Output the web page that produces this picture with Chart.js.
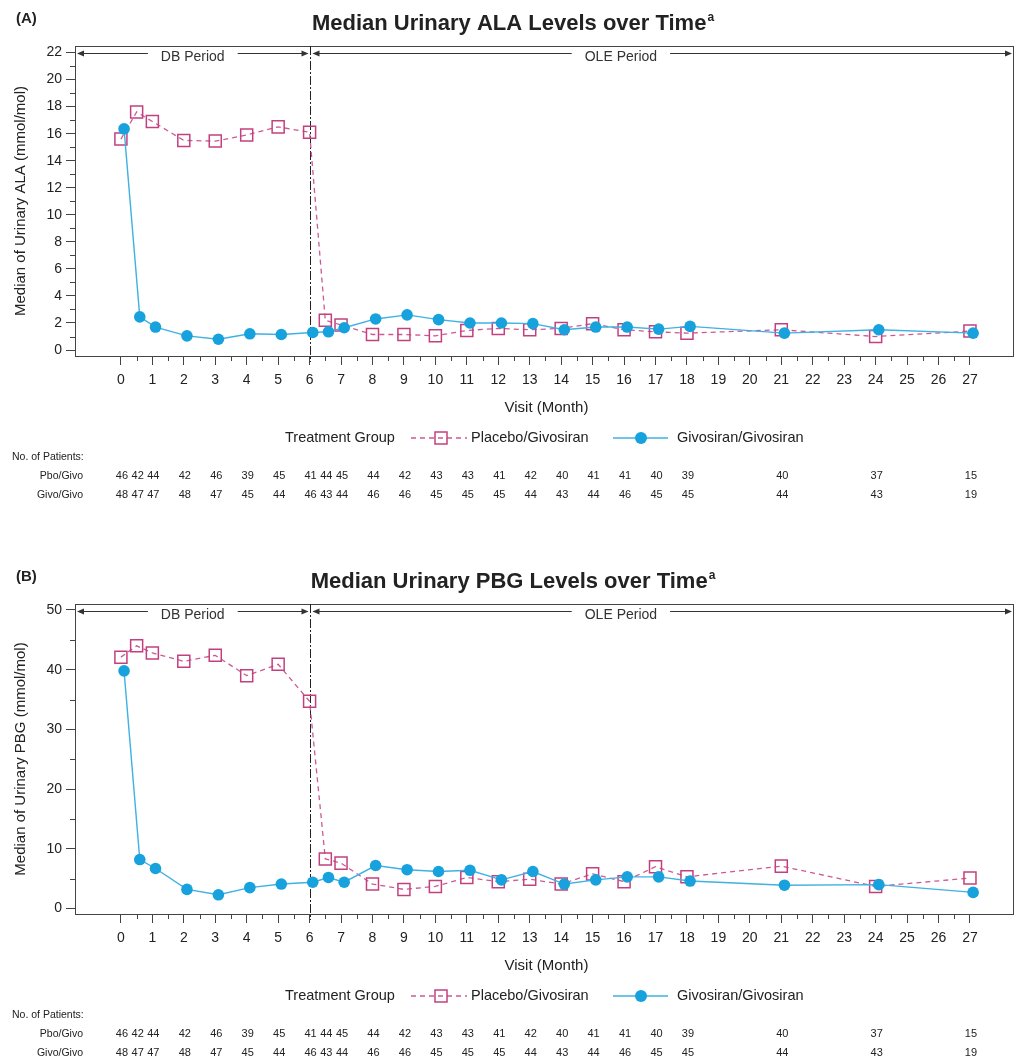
<!DOCTYPE html>
<html>
<head>
<meta charset="utf-8">
<script src="https://cdn.jsdelivr.net/npm/chart.js@4.4.1/dist/chart.umd.min.js"></script>
<style>
  body { margin: 0; background: #fff; }
  .panel { position: absolute; left: 0; width: 1019px; height: 504px; }
</style>
</head>
<body>
<div class="panel" style="top:0"><canvas id="chartA" width="1019" height="504"></canvas></div>
<div class="panel" style="top:558px"><canvas id="chartB" width="1019" height="504"></canvas></div>
<script>
// visits (months) and the two groups
const visits = [0, 0.5, 1, 2, 3, 4, 5, 6, 6.5, 7, 8, 9, 10, 11, 12, 13, 14, 15, 16, 17, 18, 21, 24, 27];
const givoShift = 0.1; // givo markers sit a little right of the visit

// median urinary ALA (mmol/mol)
const alaPbo = [15.6, 17.6, 16.9, 15.5, 15.45, 15.9, 16.5, 16.1, 2.2, 1.85, 1.15, 1.15, 1.05, 1.45, 1.6, 1.5, 1.6, 1.95, 1.5, 1.35, 1.25, 1.5, 1.0, 1.4];
const alaGivo = [16.35, 2.45, 1.7, 1.05, 0.8, 1.2, 1.15, 1.3, 1.35, 1.65, 2.3, 2.6, 2.25, 2.0, 2.0, 1.95, 1.5, 1.7, 1.7, 1.55, 1.75, 1.25, 1.5, 1.25];

// median urinary PBG (mmol/mol)
const pbgPbo = [42.1, 44.0, 42.8, 41.4, 42.4, 39.0, 40.9, 34.7, 8.3, 7.6, 4.1, 3.2, 3.7, 5.2, 4.5, 4.9, 4.1, 5.8, 4.5, 7.0, 5.3, 7.1, 3.7, 5.1];
const pbgGivo = [39.8, 8.2, 6.7, 3.2, 2.3, 3.5, 4.1, 4.4, 5.2, 4.4, 7.2, 6.5, 6.2, 6.4, 4.8, 6.2, 4.1, 4.8, 5.3, 5.3, 4.6, 3.9, 4.0, 2.7];

// number of patients at each visit
const nPbo = [46, 42, 44, 42, 46, 39, 45, 41, 44, 45, 44, 42, 43, 43, 41, 42, 40, 41, 41, 40, 39, 40, 37, 15];
const nGivo = [48, 47, 47, 48, 47, 45, 44, 46, 43, 44, 46, 46, 45, 45, 45, 44, 43, 44, 46, 45, 45, 44, 43, 19];

const seriesNames = ["Placebo/Givosiran", "Givosiran/Givosiran"];
const rowNames = ["Pbo/Givo", "Givo/Givo"];

const pboColor = "#c2407f";
const pboLine = "#cc5a92";
const givoColor = "#17a1dd";
const givoLine = "#3fb1e3";
const txt = "#222";
const axisCol = "#444";
const FONT = '"Liberation Sans", Arial, sans-serif';

const toPoints = (ys, shift) => ys.map((y, i) => ({ x: visits[i] + shift, y: y }));

// draws a little arrowhead at (x,y) pointing dir (+1 right, -1 left)
const arrowHead = (ctx, x, y, dir) => {
  ctx.beginPath();
  ctx.moveTo(x, y);
  ctx.lineTo(x - dir * 7, y - 3);
  ctx.lineTo(x - dir * 7, y + 3);
  ctx.closePath();
  ctx.fill();
};

const decorPlugin = {
  id: "decor",
  beforeDatasetsDraw(chart, args, o) {
    const ctx = chart.ctx;
    const a = chart.chartArea;
    const xs = chart.scales.x;
    const ys = chart.scales.y;
    ctx.save();
    // frame
    ctx.strokeStyle = axisCol;
    ctx.lineWidth = 1;
    ctx.strokeRect(a.left + 0.5, a.top + 0.5, a.right - a.left - 1, a.bottom - a.top);
    // minor ticks
    ctx.beginPath();
    for (let v = 0.5; v < 27; v += 1) {
      const px = Math.round(xs.getPixelForValue(v)) + 0.5;
      ctx.moveTo(px, a.bottom);
      ctx.lineTo(px, a.bottom + 5);
    }
    for (let v = o.minorStart; v < o.yTop; v += o.minorStep) {
      const py = Math.round(ys.getPixelForValue(v)) + 0.5;
      ctx.moveTo(a.left, py);
      ctx.lineTo(a.left - 5, py);
    }
    ctx.stroke();
    // vertical line at month 6
    const x6 = Math.round(xs.getPixelForValue(6)) + 0.5;
    ctx.strokeStyle = "#222";
    ctx.setLineDash([9, 2, 2, 2]);
    ctx.beginPath();
    ctx.moveTo(x6, a.top);
    ctx.lineTo(x6, a.bottom + 6);
    ctx.stroke();
    ctx.setLineDash([]);
    // period arrows
    const py = Math.round(ys.getPixelForValue(o.yTop)) + 1.5;
    ctx.strokeStyle = "#333";
    ctx.fillStyle = "#333";
    ctx.beginPath();
    ctx.moveTo(a.left + 3, py);
    ctx.lineTo(x6 - 3, py);
    ctx.moveTo(x6 + 3, py);
    ctx.lineTo(a.right - 3, py);
    ctx.stroke();
    arrowHead(ctx, a.left + 2, py, -1);
    arrowHead(ctx, x6 - 2, py, 1);
    arrowHead(ctx, x6 + 2, py, -1);
    arrowHead(ctx, a.right - 2, py, 1);
    ctx.font = "14px " + FONT;
    ctx.textAlign = "center";
    ctx.textBaseline = "middle";
    const labels = [["DB Period", (a.left + x6) / 2], ["OLE Period", xs.getPixelForValue(15.9)]];
    labels.forEach(([t, cx]) => {
      const w = ctx.measureText(t).width;
      ctx.fillStyle = "#fff";
      ctx.fillRect(cx - w / 2 - 13, py - 3, w + 26, 6);
      ctx.fillStyle = "#333";
      ctx.fillText(t, cx, py + 4);
    });
    ctx.restore();
  },
  afterDraw(chart, args, o) {
    const ctx = chart.ctx;
    const a = chart.chartArea;
    const xs = chart.scales.x;
    ctx.save();
    ctx.fillStyle = txt;
    ctx.textBaseline = "middle";
    // panel letter
    ctx.font = "bold 15px " + FONT;
    ctx.textAlign = "left";
    ctx.fillText(o.letter, 16, 19);
    // title with superscript
    ctx.font = "bold 22px " + FONT;
    const tw = ctx.measureText(o.title).width;
    ctx.font = "bold 12px " + FONT;
    const sw = ctx.measureText("a").width;
    const tx = 513 - (tw + sw + 1) / 2;
    ctx.font = "bold 22px " + FONT;
    ctx.fillText(o.title, tx, 24);
    ctx.font = "bold 12px " + FONT;
    ctx.fillText("a", tx + tw + 1, 18);
    // y title
    ctx.save();
    ctx.translate(21, (a.top + a.bottom) / 2);
    ctx.rotate(-Math.PI / 2);
    ctx.textAlign = "center";
    ctx.font = "15px " + FONT;
    ctx.fillText(o.yTitle, 0, 0);
    ctx.restore();
    // x title
    ctx.textAlign = "center";
    ctx.font = "15px " + FONT;
    ctx.fillText("Visit (Month)", (a.left + a.right) / 2 + 2, 408);
    // legend
    const ly = 438;
    ctx.textAlign = "left";
    ctx.font = "14.5px " + FONT;
    ctx.fillText("Treatment Group", 285, ly);
    ctx.strokeStyle = pboLine;
    ctx.lineWidth = 1.3;
    ctx.setLineDash([5, 4]);
    ctx.beginPath();
    ctx.moveTo(411, ly);
    ctx.lineTo(467, ly);
    ctx.stroke();
    ctx.setLineDash([]);
    ctx.strokeStyle = pboColor;
    ctx.lineWidth = 1.5;
    ctx.strokeRect(435, ly - 6, 12, 12);
    ctx.fillText(seriesNames[0], 471, ly);
    ctx.strokeStyle = givoLine;
    ctx.lineWidth = 1.5;
    ctx.beginPath();
    ctx.moveTo(613, ly);
    ctx.lineTo(668, ly);
    ctx.stroke();
    ctx.fillStyle = givoColor;
    ctx.beginPath();
    ctx.arc(641, ly, 6, 0, Math.PI * 2);
    ctx.fill();
    ctx.fillStyle = txt;
    ctx.fillText(seriesNames[1], 677, ly);
    // patient numbers
    ctx.font = "10.5px " + FONT;
    ctx.fillText("No. of Patients:", 12, 457);
    ctx.textAlign = "right";
    ctx.fillText(rowNames[0], 83, 476);
    ctx.fillText(rowNames[1], 83, 495);
    ctx.textAlign = "center";
    ctx.font = "11px " + FONT;
    visits.forEach((v, i) => {
      const px = xs.getPixelForValue(v) + 1;
      ctx.fillText(String(nPbo[i]), px, 476);
      ctx.fillText(String(nGivo[i]), px, 495);
    });
    ctx.restore();
  }
};

const makePanel = (id, cfg) => new Chart(document.getElementById(id), {
  type: "line",
  data: {
    datasets: [
      {
        label: seriesNames[1],
        data: toPoints(cfg.givo, givoShift),
        order: 0,
        borderColor: givoLine,
        borderWidth: 1.4,
        pointStyle: "circle",
        pointRadius: 5.8,
        pointBackgroundColor: givoColor,
        pointBorderColor: givoColor,
        pointBorderWidth: 0,
        tension: 0
      },
      {
        label: seriesNames[0],
        data: toPoints(cfg.pbo, 0),
        order: 1,
        borderColor: pboLine,
        borderWidth: 1.3,
        borderDash: [5, 4],
        pointStyle: "rect",
        pointRadius: 8.5,
        pointBackgroundColor: "rgba(0,0,0,0)",
        pointBorderColor: pboColor,
        pointBorderWidth: 1.5,
        tension: 0
      }
    ]
  },
  options: {
    responsive: false,
    animation: false,
    events: [],
    layout: { autoPadding: false, padding: { left: 0, right: 5, top: 46, bottom: 108 } },
    plugins: {
      legend: { display: false },
      tooltip: { enabled: false },
      decor: cfg.decor
    },
    scales: {
      x: {
        type: "linear",
        min: -1.46,
        max: 28.4,
        afterFit: (s) => { s.height = 40; s.paddingLeft = 0; s.paddingRight = 0; },
        afterBuildTicks: (s) => { s.ticks = s.ticks.filter((t) => t.value >= 0 && t.value <= 27); },
        ticks: {
          stepSize: 1,
          includeBounds: false,
          autoSkip: false,
          maxRotation: 0,
          padding: 7,
          color: txt,
          font: { family: FONT, size: 14 }
        },
        grid: { drawOnChartArea: false, drawTicks: true, tickLength: 9, tickColor: axisCol },
        border: { display: false }
      },
      y: {
        min: cfg.yMin,
        max: cfg.yMax,
        afterFit: (s) => { s.width = 75; },
        afterBuildTicks: (s) => { s.ticks = s.ticks.filter((t) => t.value >= 0 && t.value <= cfg.decor.yTop); },
        ticks: {
          stepSize: cfg.yStep,
          includeBounds: false,
          padding: 4,
          color: txt,
          font: { family: FONT, size: 14 }
        },
        grid: { drawOnChartArea: false, drawTicks: true, tickLength: 9, tickColor: axisCol },
        border: { display: false }
      }
    }
  },
  plugins: [decorPlugin]
});

makePanel("chartA", {
  pbo: alaPbo,
  givo: alaGivo,
  yMin: -0.44,
  yMax: 22.48,
  yStep: 2,
  decor: {
    letter: "(A)",
    title: "Median Urinary ALA Levels over Time",
    yTitle: "Median of Urinary ALA (mmol/mol)",
    yTop: 22,
    minorStart: 1,
    minorStep: 2
  }
});

makePanel("chartB", {
  pbo: pbgPbo,
  givo: pbgGivo,
  yMin: -0.92,
  yMax: 51.0,
  yStep: 10,
  decor: {
    letter: "(B)",
    title: "Median Urinary PBG Levels over Time",
    yTitle: "Median of Urinary PBG (mmol/mol)",
    yTop: 50,
    minorStart: 5,
    minorStep: 10
  }
});
</script>
</body>
</html>
